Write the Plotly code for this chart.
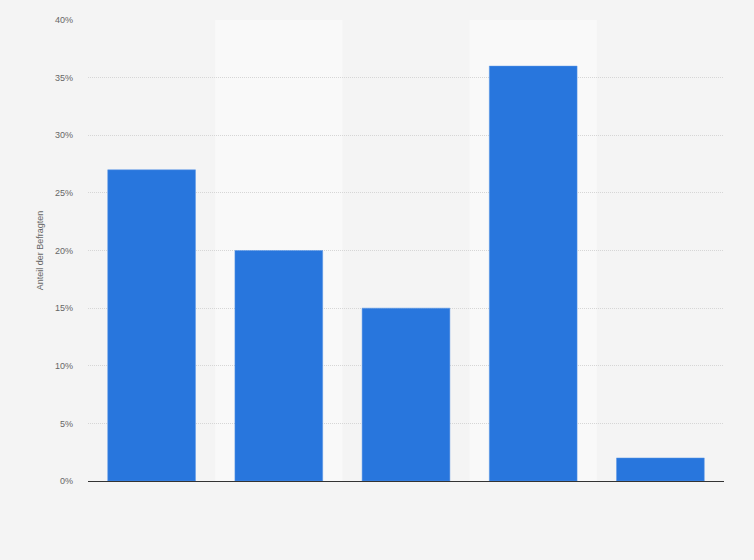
import plotly.graph_objects as go

categories = [0, 1, 2, 3, 4]
values = [27, 20, 15, 36, 2]
tick_vals = [0, 5, 10, 15, 20, 25, 30, 35, 40]
tick_text = ["0%", "5%", "10%", "15%", "20%", "25%", "30%", "35%", "40%"]
y_title = "Anteil der Befragten"

fig = go.Figure()
fig.add_trace(go.Bar(
    x=categories, y=values,
    marker=dict(color="#2876dd", line=dict(width=0.5, color="#5a96e6")),
    width=0.69,
))

shapes = []
for i in (1, 3):
    shapes.append(dict(type="rect", xref="x", yref="paper",
                       x0=categories[i] - 0.5, x1=categories[i] + 0.5, y0=0, y1=1,
                       fillcolor="#f9f9f9", line=dict(width=0), layer="below"))

fig.update_layout(
    width=754, height=560,
    margin=dict(l=88, r=30, t=20, b=79),
    paper_bgcolor="#f4f4f4",
    plot_bgcolor="#f4f4f4",
    showlegend=False,
    shapes=shapes,
    font=dict(family="Arial, Liberation Sans, sans-serif", size=9, color="#666666"),
    xaxis=dict(range=[-0.5, 4.5], showticklabels=False, showgrid=False,
               zeroline=False, showline=True, linecolor="#333333", linewidth=1,
               ticks=""),
    yaxis=dict(range=[0, 40], tickvals=tick_vals, ticktext=tick_text,
               showgrid=True, gridcolor="#d6d6d6", griddash="1px,1px", gridwidth=1,
               zeroline=False, ticks="", ticklabelstandoff=14,
               title=dict(text=y_title, standoff=9, font=dict(size=9, color="#666666"))),
)

fig.write_html("out.html", config={"displayModeBar": False},
               post_script="document.body.style.margin='0';document.body.style.background='#f4f4f4';")
